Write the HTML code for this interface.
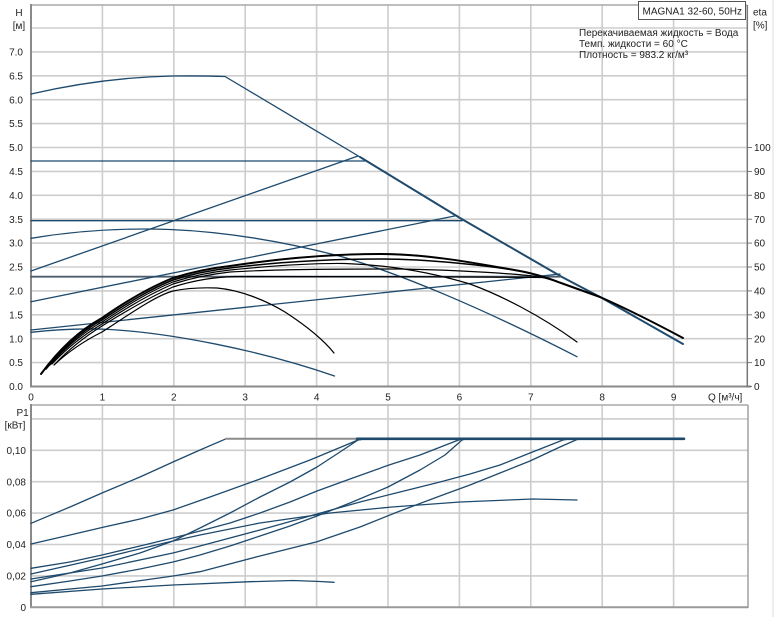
<!DOCTYPE html>
<html><head><meta charset="utf-8">
<style>
html,body{margin:0;padding:0;background:#fff;}
svg{display:block;font-family:"Liberation Sans",Arial,sans-serif;}
text{font-size:10px;fill:#222;}
</style></head>
<body>
<svg width="775" height="617" viewBox="0 0 775 617" xmlns="http://www.w3.org/2000/svg">
<rect width="775" height="617" fill="#fff"/>
<line x1="773" y1="0" x2="773" y2="617" stroke="#dddddd" stroke-width="1"/>

<!-- ===== TOP CHART GRID ===== -->
<g stroke="#cdcdcd" stroke-width="1.6">
<line x1="31" y1="28" x2="747" y2="28"/>
<line x1="31" y1="51.9" x2="747" y2="51.9"/>
<line x1="31" y1="75.8" x2="747" y2="75.8"/>
<line x1="31" y1="99.7" x2="747" y2="99.7"/>
<line x1="31" y1="123.6" x2="747" y2="123.6"/>
<line x1="31" y1="147.5" x2="747" y2="147.5"/>
<line x1="31" y1="171.4" x2="747" y2="171.4"/>
<line x1="31" y1="195.3" x2="747" y2="195.3"/>
<line x1="31" y1="219.2" x2="747" y2="219.2"/>
<line x1="31" y1="243.1" x2="747" y2="243.1"/>
<line x1="31" y1="267" x2="747" y2="267"/>
<line x1="31" y1="290.9" x2="747" y2="290.9"/>
<line x1="31" y1="314.8" x2="747" y2="314.8"/>
<line x1="31" y1="338.7" x2="747" y2="338.7"/>
<line x1="31" y1="362.6" x2="747" y2="362.6"/>
<line x1="102.4" y1="5" x2="102.4" y2="386.5"/>
<line x1="173.8" y1="5" x2="173.8" y2="386.5"/>
<line x1="245.2" y1="5" x2="245.2" y2="386.5"/>
<line x1="316.6" y1="5" x2="316.6" y2="386.5"/>
<line x1="388" y1="5" x2="388" y2="386.5"/>
<line x1="459.4" y1="5" x2="459.4" y2="386.5"/>
<line x1="530.8" y1="5" x2="530.8" y2="386.5"/>
<line x1="602.2" y1="5" x2="602.2" y2="386.5"/>
<line x1="673.6" y1="5" x2="673.6" y2="386.5"/>
</g>
<line x1="31" y1="5" x2="747" y2="5" stroke="#a8a8a8" stroke-width="1.5"/>
<line x1="31" y1="4" x2="31" y2="387.5" stroke="#8a8a8a" stroke-width="2"/>
<line x1="30" y1="386.5" x2="751" y2="386.5" stroke="#8a8a8a" stroke-width="2"/>
<line x1="747.3" y1="5" x2="747.3" y2="387.5" stroke="#777" stroke-width="1.5"/>
<g stroke="#777" stroke-width="1">
<line x1="747" y1="386.5" x2="752" y2="386.5"/>
<line x1="747" y1="362.6" x2="752" y2="362.6"/>
<line x1="747" y1="338.7" x2="752" y2="338.7"/>
<line x1="747" y1="314.8" x2="752" y2="314.8"/>
<line x1="747" y1="290.9" x2="752" y2="290.9"/>
<line x1="747" y1="267" x2="752" y2="267"/>
<line x1="747" y1="243.1" x2="752" y2="243.1"/>
<line x1="747" y1="219.2" x2="752" y2="219.2"/>
<line x1="747" y1="195.3" x2="752" y2="195.3"/>
<line x1="747" y1="171.4" x2="752" y2="171.4"/>
<line x1="747" y1="147.5" x2="752" y2="147.5"/>
</g>

<!-- top labels -->
<text x="19" y="16" text-anchor="middle">H</text>
<text x="19" y="29" text-anchor="middle">[м]</text>
<g text-anchor="end">
<text x="23" y="55.5">7.0</text>
<text x="23" y="79.4">6.5</text>
<text x="23" y="103.3">6.0</text>
<text x="23" y="127.2">5.5</text>
<text x="23" y="151.1">5.0</text>
<text x="23" y="175">4.5</text>
<text x="23" y="198.9">4.0</text>
<text x="23" y="222.8">3.5</text>
<text x="23" y="246.7">3.0</text>
<text x="23" y="270.6">2.5</text>
<text x="23" y="294.5">2.0</text>
<text x="23" y="318.4">1.5</text>
<text x="23" y="342.3">1.0</text>
<text x="23" y="366.2">0.5</text>
<text x="23" y="390.1">0.0</text>
</g>
<text x="753" y="15.5">eta</text>
<text x="753" y="28.5">[%]</text>
<g>
<text x="754" y="151.1">100</text>
<text x="754" y="175">90</text>
<text x="754" y="198.9">80</text>
<text x="754" y="222.8">70</text>
<text x="754" y="246.7">60</text>
<text x="754" y="270.6">50</text>
<text x="754" y="294.5">40</text>
<text x="754" y="318.4">30</text>
<text x="754" y="342.3">20</text>
<text x="754" y="366.2">10</text>
<text x="754" y="390.1">0</text>
</g>
<g text-anchor="middle">
<text x="31" y="400.5">0</text>
<text x="102.4" y="400.5">1</text>
<text x="173.8" y="400.5">2</text>
<text x="245.2" y="400.5">3</text>
<text x="316.6" y="400.5">4</text>
<text x="388" y="400.5">5</text>
<text x="459.4" y="400.5">6</text>
<text x="530.8" y="400.5">7</text>
<text x="602.2" y="400.5">8</text>
<text x="673.6" y="400.5">9</text>
</g>
<text x="708" y="400.5">Q [м³/ч]</text>

<!-- legend -->
<rect x="638.5" y="1.5" width="107" height="18" fill="#fff" stroke="#555" stroke-width="1"/>
<text x="642.5" y="14.5">MAGNA1 32-60, 50Hz</text>
<text x="579" y="35.8">Перекачиваемая жидкость = Вода</text>
<text x="579" y="46.8">Темп. жидкости = 60 °C</text>
<text x="579" y="57.8">Плотность = 983.2 кг/м³</text>

<!-- ===== TOP CHART CURVES ===== -->
<g fill="none" stroke="#1e4a6d" stroke-width="1.3" stroke-linejoin="round" stroke-linecap="round">
<path d="M31,94 C70,85 120,77 173,76 C195,75.8 212,76 225,76.5 L360,157"/>
<path d="M360,157 L460,218 L562,277 L602,298 L683,344" stroke-width="2"/>
<path d="M31,161 H366"/>
<path d="M31,220.7 H462"/>
<path d="M31,276.7 H560" stroke="#4d5d6c" stroke-width="1.8"/>
<path d="M31,271 L358,156"/>
<path d="M31,301.7 L457,215.5"/>
<path d="M31,330 L560,274"/>
<path d="M31,238.3 C80,230 130,228 170,229.5 C230,232 290,243 343,257 C400,274 480,307 577,356.7"/>
<path d="M31,332.3 C60,329 90,328.5 110,329.5 C170,333 260,350 334.5,376"/>
</g>
<g fill="none" stroke="#000" stroke-width="1.2" stroke-linejoin="round" stroke-linecap="round">
<path stroke-width="2" d="M41,374 C60,348 80,330 102,318 C125,302 150,287 173,278 C195,271 212,268 230,266 C270,260 320,254 380,254 C430,254 480,264 520,271 C540,275 550,279 561,283 L600,297 C625,308 655,323 683,338"/>
<path stroke-width="1.5" d="M46,369 C64,347 82,331 102,320 C126,304 150,289 173,280 C195,273 212,270 230,268 C270,263 320,259 380,259 C430,259 490,266 520,271 C540,275 550,279 561,283"/>
<path d="M50,365 C66,347 84,332 102,322 C126,306 150,291 173,282 C195,275 212,272 230,270 C270,266 310,263 345,263.5 C390,265 430,272 470,284 C500,295 540,315 577,342"/>
<path d="M52,364 C68,347 85,334 102,324 C126,308 150,294 173,284 C195,277 212,274 230,272 C280,269 350,269 400,269 C460,270 520,274 540,277 C550,279 555,281 561,283"/>
<path d="M55,364 C70,348 86,336 102,326 C126,311 150,297 173,287 C195,280 215,277 235,276.5 C300,276.5 450,276.5 545,277.5 C552,279 557,281 561,283"/>
<path d="M54,365 C70,350 86,340 102,332 C130,314 155,296 173,291 C190,287.5 205,287.5 217,288 C240,290 265,300 285,312 C305,325 322,338 334,353"/>
</g>

<!-- ===== BOTTOM CHART GRID ===== -->
<g stroke="#cdcdcd" stroke-width="1.6">
<line x1="31" y1="418.9" x2="748" y2="418.9"/>
<line x1="31" y1="450.3" x2="748" y2="450.3"/>
<line x1="31" y1="481.7" x2="748" y2="481.7"/>
<line x1="31" y1="513.1" x2="748" y2="513.1"/>
<line x1="31" y1="544.5" x2="748" y2="544.5"/>
<line x1="31" y1="575.9" x2="748" y2="575.9"/>
<line x1="102.4" y1="405" x2="102.4" y2="607.3"/>
<line x1="173.8" y1="405" x2="173.8" y2="607.3"/>
<line x1="245.2" y1="405" x2="245.2" y2="607.3"/>
<line x1="316.6" y1="405" x2="316.6" y2="607.3"/>
<line x1="388" y1="405" x2="388" y2="607.3"/>
<line x1="459.4" y1="405" x2="459.4" y2="607.3"/>
<line x1="530.8" y1="405" x2="530.8" y2="607.3"/>
<line x1="602.2" y1="405" x2="602.2" y2="607.3"/>
<line x1="673.6" y1="405" x2="673.6" y2="607.3"/>
</g>
<line x1="31" y1="405" x2="748" y2="405" stroke="#a8a8a8" stroke-width="1.5"/>
<line x1="748" y1="405" x2="748" y2="608" stroke="#a0a0a0" stroke-width="1.5"/>
<line x1="31" y1="404" x2="31" y2="608" stroke="#8a8a8a" stroke-width="2"/>
<line x1="30" y1="607.3" x2="748" y2="607.3" stroke="#9a9a9a" stroke-width="2"/>

<text x="16.5" y="416">P1</text>
<text x="15" y="428.6" text-anchor="middle">[кВт]</text>
<g text-anchor="end">
<text x="26" y="453.9">0,10</text>
<text x="26" y="485.3">0,08</text>
<text x="26" y="516.7">0,06</text>
<text x="26" y="548.1">0,04</text>
<text x="26" y="579.5">0,02</text>
<text x="26" y="611">0</text>
</g>

<!-- ===== BOTTOM CHART CURVES ===== -->
<g fill="none" stroke="#1e4a6d" stroke-width="1.3" stroke-linejoin="round" stroke-linecap="round">
<polyline points="31,523.3 70,507 102,493 140,477 173,462 200,450 226,438.8"/>
<line x1="226" y1="438.8" x2="357" y2="438.8" stroke="#8c8c8c" stroke-width="2"/>
<line x1="357" y1="438.8" x2="684" y2="438.8" stroke-width="2.6"/>
<polyline points="31,544 70,535 102,527.5 140,519 173,510 210,497 260,479 310,460 358,440 365,438.8"/>
<polyline points="31,581.7 70,573 102,564 140,553 173,541 200,528 230,513 260,497 290,482 317,467 340,452 358,440 365,438.8"/>
<polyline points="31,568.3 70,562 102,555 140,546 173,538 200,531 230,523 260,513 290,502 317,491 350,479 389,465 420,455 456,441 462,438.8"/>
<polyline points="31,586.7 70,581 102,576 140,569 173,562 200,555 230,546 260,536 290,526 317,516 350,503 388,487 420,470 445,455 462,440 466,438.8"/>
<polyline points="31,579 102,568 173,553 200,546 260,530 317,514 360,502 400,492 440,482 470,474 500,465 530,453 563,440 570,438.8"/>
<polyline points="31,592.7 102,586 173,576 200,571.7 260,556 317,541.7 360,527 400,511 440,496 470,485 500,473 530,461 560,447 577,439.5 590,438.8"/>
<polyline points="31,574 102,558 173,541 200,535 260,523 330,513 392,507 460,502 533,499 577,500"/>
<polyline points="31,594.3 102,589 173,585 250,581.7 293,580.5 320,581.5 334,582.3"/>
</g>
</svg>
</body></html>
